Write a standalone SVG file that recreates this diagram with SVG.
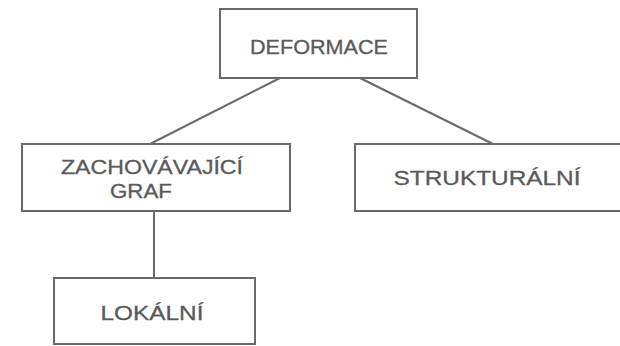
<svg xmlns="http://www.w3.org/2000/svg" width="620" height="346" viewBox="0 0 620 346">
<style>
.box{fill:#fff;stroke:#6a6a6a;stroke-width:2}
.lbl{font-family:"Liberation Sans",Arial,sans-serif;font-size:20px;fill:#5a5a5a;stroke:#5a5a5a;stroke-width:0.3;text-anchor:middle}
.edge{stroke:#6a6a6a;stroke-width:2;fill:none}
</style>
<rect width="620" height="346" fill="#fff"/>
<g id="connectors">
<line class="edge" x1="280" y1="78" x2="150" y2="144"/>
<line class="edge" x1="360" y1="78" x2="493" y2="144"/>
<line class="edge" x1="154" y1="211" x2="154" y2="278"/>
</g>
<g id="deformace">
<rect class="box" x="220" y="9" width="197" height="69"/>
<text class="lbl" x="319" y="54" textLength="138" lengthAdjust="spacingAndGlyphs">DEFORMACE</text>
</g>
<g id="zachovavajici">
<rect class="box" x="22" y="144" width="268" height="67"/>
<text class="lbl" x="152" y="174" textLength="182" lengthAdjust="spacingAndGlyphs">ZACHOVÁVAJÍCÍ</text>
<text class="lbl" x="141" y="198" textLength="62" lengthAdjust="spacingAndGlyphs">GRAF</text>
</g>
<g id="strukturalni">
<rect class="box" x="355" y="144" width="270" height="67"/>
<text class="lbl" x="487" y="185" textLength="187" lengthAdjust="spacingAndGlyphs">STRUKTURÁLNÍ</text>
</g>
<g id="lokalni">
<rect class="box" x="54" y="278" width="201" height="66"/>
<text class="lbl" x="152" y="320" textLength="103" lengthAdjust="spacingAndGlyphs">LOKÁLNÍ</text>
</g>
</svg>
